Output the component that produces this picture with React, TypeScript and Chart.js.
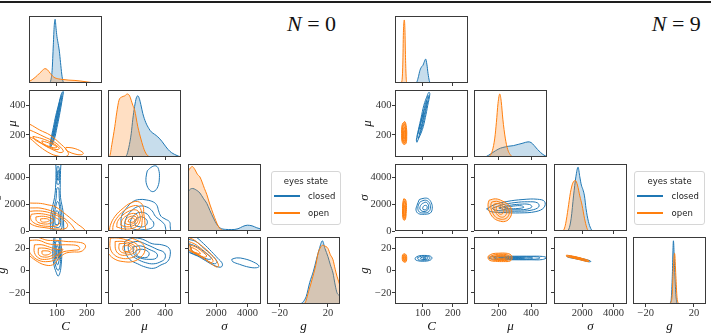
import React, { useEffect, useRef } from 'react';
import { Chart, registerables } from 'chart.js';
Chart.register(...registerables);

type P = [number, number];

// ---------------- axis ranges and ticks ----------------
const C_RANGE: P = [7, 250];
const MU_X_RANGE: P = [46, 499];
const MU_Y_RANGE: P = [50, 505];
const SIGMA_X_RANGE: P = [200, 4870];
const SIGMA_Y_RANGE: P = [0, 5000];
const G_X_RANGE: P = [-30.5, 30];
const G_Y_RANGE: P = [-30, 30];
const C_TICKS = [100, 200];
const MU_TICKS = [200, 400];
const SIGMA_X_TICKS = [2000, 4000];
const SIGMA_Y_TICKS = [0, 2000, 4000];
const G_X_TICKS = [-20, 20];
const G_Y_TICKS = [-20, 0, 20];
const VAR_TITLES = ['C', 'μ', 'σ', 'g'];
const PLOT_TITLES = ['0', '9'];
const LEGEND_TITLE = 'eyes state';
const LEGEND_LABELS = ['closed', 'open'];

// ---------------- N = 0 : diagonal densities ----------------
const n0_kde_C_closed: P[] = [[70,0],[76,0.01],[80,0.05],[84,0.2],[88,0.6],[91,0.9],[94,1.0],[97,0.86],[100,0.73],[104,0.62],[108,0.5],[112,0.32],[116,0.14],[120,0.03],[125,0]];
const n0_kde_C_open: P[] = [[0,0.02],[7,0.025],[20,0.06],[35,0.12],[50,0.19],[60,0.225],[68,0.21],[78,0.15],[90,0.09],[105,0.065],[120,0.055],[140,0.045],[160,0.04],[180,0.03],[200,0.017],[215,0.008],[235,0.002],[250,0]];
const n0_kde_mu_closed: P[] = [[140,0],[160,0.02],[175,0.15],[190,0.37],[200,0.6],[211,0.8],[222,0.94],[231,0.97],[240,0.93],[250,0.83],[262,0.69],[280,0.55],[300,0.45],[314,0.4],[335,0.36],[355,0.32],[380,0.25],[406,0.16],[430,0.09],[468,0.03],[495,0.005],[510,0]];
const n0_kde_mu_open: P[] = [[40,0],[57,0.02],[70,0.2],[88,0.48],[100,0.7],[114,0.9],[130,0.95],[150,0.97],[166,1.0],[180,0.97],[190,0.9],[200,0.82],[211,0.75],[231,0.48],[252,0.27],[270,0.12],[283,0.05],[303,0.005],[320,0]];
const n0_kde_sigma_closed: P[] = [[100,0.58],[200,0.61],[350,0.65],[500,0.66],[700,0.64],[960,0.59],[1200,0.5],[1400,0.43],[1600,0.32],[1830,0.2],[2050,0.1],[2270,0.045],[2600,0.025],[3000,0.022],[3400,0.035],[3700,0.07],[4000,0.09],[4300,0.08],[4600,0.05],[4870,0.03],[5000,0.025]];
const n0_kde_sigma_open: P[] = [[100,0.88],[200,0.92],[350,0.98],[480,1.0],[650,0.95],[800,0.88],[960,0.84],[1100,0.76],[1250,0.66],[1400,0.57],[1550,0.45],[1720,0.33],[1900,0.21],[2050,0.12],[2200,0.05],[2370,0.015],[2500,0]];
const n0_kde_g_closed: P[] = [[-4,0],[-2,0.01],[2,0.12],[4.9,0.34],[8,0.52],[10.4,0.7],[13,0.88],[15.4,1.0],[17.5,0.88],[20,0.75],[22,0.62],[24.2,0.49],[26,0.3],[27.5,0.18],[29,0.14],[30,0.13]];
const n0_kde_g_open: P[] = [[-2,0],[0.7,0.01],[4,0.2],[7.6,0.44],[10,0.62],[11.8,0.8],[14,0.9],[15.4,0.93],[17,0.92],[20,0.88],[22,0.78],[24.2,0.7],[26,0.55],[27.5,0.44],[29,0.35],[30,0.29]];

// ---------------- N = 0 : contour rings ----------------
const n0_muC_closed: P[][] = [
  [[79,116],[91,170],[100,250],[108,330],[115,410],[120,470],[121,495],[115,480],[106,410],[96,330],[88,250],[80,170],[77,130]],
  [[83,140],[89,180],[97,250],[105,330],[112,410],[117,460],[115,465],[107,410],[99,330],[91,250],[84,185],[81,150]],
  [[88,190],[95,250],[103,330],[110,410],[109,420],[101,340],[93,260],[87,200]],
];
const n0_muC_open: P[][] = [
  [[-25,240],[-10,285],[10,272],[43,233],[77,199],[110,143],[132,98],[138,66],[125,52],[100,58],[77,75],[43,120],[10,177],[-10,200]],
  [[-15,250],[10,233],[57,188],[90,154],[115,110],[121,87],[110,80],[100,87],[66,120],[33,165],[10,185],[-15,200]],
  [[20,190],[50,175],[85,145],[108,110],[100,100],[75,115],[45,145],[25,170]],
  [[50,160],[80,140],[100,118],[90,112],[70,125],[52,145]],
  [[130,115],[150,112],[175,95],[188,75],[180,65],[160,70],[140,85],[130,100]],
];
const n0_sigmaC_closed: P[][] = [
  [[82,-200],[78,600],[82,1500],[92,2500],[96,3500],[97,4500],[98,5500],[112,5500],[112,4500],[111,3500],[112,2500],[120,1500],[122,600],[118,-200]],
  [[86,100],[84,800],[89,1600],[97,2400],[100,3200],[106,3200],[108,2400],[114,1600],[117,800],[113,100]],
  [[90,300],[89,900],[94,1600],[101,2200],[106,2100],[110,1500],[112,800],[109,300]],
  [[94,500],[93,1000],[98,1500],[104,1450],[107,1000],[104,500]],
  [[100,3500],[99,4100],[101,4800],[106,4800],[109,4100],[107,3500]],
  [[102,3800],[103,4500],[106,4500],[106,3800]],
];
const n0_sigmaC_open: P[][] = [
  [[-10,2100],[20,2080],[45,2060],[70,1950],[94,1815],[132,1195],[165,576],[193,76],[200,-300],[-10,-300]],
  [[-10,1720],[20,1720],[47,1700],[88,1440],[110,1150],[132,822],[157,200],[165,-300],[-10,-300]],
  [[5,1450],[30,1500],[60,1450],[90,1250],[115,950],[135,500],[130,200],[100,150],[60,250],[25,400],[5,700],[0,1100]],
  [[15,1250],[40,1300],[70,1200],[95,1000],[110,700],[100,400],[70,350],[40,450],[18,700],[12,1000]],
  [[30,1050],[55,1100],[80,950],[90,750],[75,550],[50,550],[32,750]],
  [[45,900],[65,920],[75,800],[65,680],[48,700]],
];
const n0_sigmaMu_closed: P[][] = [
  [[135,-200],[128,500],[130,1100],[160,1700],[200,2190],[240,2350],[283,2320],[330,2150],[350,1900],[360,1500],[375,1100],[400,900],[427,700],[432,400],[425,-200]],
  [[160,-200],[150,500],[165,1100],[200,1600],[240,1850],[285,1800],[320,1500],[340,1100],[380,700],[400,400],[395,-200]],
  [[190,200],[185,700],[210,1200],[250,1400],[290,1250],[310,900],[330,600],[320,250],[270,100],[220,100]],
  [[215,400],[215,800],[245,1050],[275,950],[290,700],[280,400],[250,300]],
  [[290,4500],[320,4800],[345,4850],[360,4600],[365,4000],[355,3300],[330,2950],[305,3050],[285,3500],[282,4000]],
];
const n0_sigmaMu_open: P[][] = [
  [[55,-200],[60,400],[90,1100],[140,1700],[185,2080],[230,2200],[262,1900],[268,1300],[275,600],[270,-200]],
  [[75,0],[80,500],[110,1100],[150,1550],[195,1850],[235,1850],[255,1400],[258,800],[245,200],[180,20]],
  [[100,300],[105,700],[135,1150],[180,1500],[225,1550],[245,1150],[240,600],[210,250],[150,150]],
  [[125,450],[135,850],[170,1200],[215,1300],[232,1000],[225,600],[190,350],[150,330]],
  [[150,600],[160,900],[190,1100],[220,1050],[222,800],[200,550],[170,480]],
  [[170,700],[180,900],[205,950],[212,800],[195,650]],
];
const n0_gC_closed: P[][] = [
  [[92,33],[88,25],[86,15],[90,5],[98,-2],[104,-5],[110,-2],[114,5],[116,15],[113,25],[110,33]],
  [[94,30],[91,22],[91,12],[96,4],[104,0],[110,4],[112,12],[110,22],[107,30]],
  [[96,26],[94,18],[96,10],[102,5],[107,9],[109,17],[106,26]],
  [[98,22],[97,16],[100,10],[105,11],[106,17],[103,22]],
  [[100,19],[100,14],[103,13],[104,18]],
];
const n0_gC_open: P[][] = [
  [[-10,30],[20,31],[45,29],[70,27],[100,27],[130,26],[165,25.5],[190,24],[195,21],[180,17],[150,16.5],[125,15],[105,10],[85,5],[60,5],[35,8],[10,13],[-10,18]],
  [[10,27],[40,27],[70,24],[100,23],[140,23],[170,22],[175,19],[150,18],[115,16],[95,10],[70,8],[40,9],[15,14],[5,20]],
  [[25,23],[50,23],[75,21],[100,19],[120,19],[110,16],[90,12],[65,10],[40,11],[25,16]],
  [[38,20],[60,20],[85,18],[95,16],[80,13],[58,12],[40,14]],
  [[50,17.5],[70,17.5],[80,16],[68,14],[52,14.5]],
];
const n0_gMu_closed: P[][] = [
  [[150,26],[200,29],[260,28],[320,24],[380,23],[425,20],[432,14],[415,8],[375,5],[330,2],[280,3],[230,6],[180,10],[150,18]],
  [[175,24],[230,26],[290,23],[350,19],[395,16],[400,11],[375,8],[330,6],[280,7],[230,10],[190,14],[172,19]],
  [[200,21],[250,22],[300,19],[350,15],[345,11],[300,10],[250,11],[210,14]],
  [[220,18],[260,19],[300,16],[290,12],[250,12],[222,14]],
];
const n0_gMu_open: P[][] = [
  [[30,32],[80,33],[150,31],[210,28],[260,24],[275,18],[250,12],[200,8],[140,8],[90,10],[50,15],[30,22]],
  [[60,29],[110,29],[170,27],[220,24],[245,19],[225,14],[180,11],[130,11],[85,14],[60,20]],
  [[90,26],[140,26],[190,24],[225,20],[210,16],[170,14],[125,14],[95,18]],
  [[115,24],[160,24],[200,21],[205,18],[175,16],[135,16],[115,19]],
  [[140,22],[175,22],[190,19],[165,17],[140,18]],
];
const n0_gSigma_closed: P[][] = [
  [[100,33],[600,31],[1200,24],[1700,17],[2100,11],[2400,6],[2300,3],[1800,5],[1300,9],[800,13],[300,16],[100,18]],
  [[200,28],[700,26],[1200,20],[1700,14],[2050,8],[1900,6],[1400,9],[900,13],[400,16],[200,20]],
  [[300,24],[800,21],[1300,16],[1700,11],[1500,10],[1000,13],[500,17]],
  [[3000,10],[3300,11.3],[3800,10.5],[4400,7.5],[4750,4],[4600,2.5],[4100,3],[3500,5.5],[3050,8]],
];
const n0_gSigma_open: P[][] = [
  [[100,30],[500,28],[1000,23],[1500,17],[1900,11],[2150,5],[2050,3],[1600,7],[1100,12],[600,16],[200,19],[100,22]],
  [[200,26],[600,24],[1000,20],[1500,14],[1800,9],[1700,7],[1300,10],[800,14],[300,18],[200,22]],
  [[300,23],[700,21],[1100,17],[1400,13],[1200,12],[800,15],[400,18]],
  [[400,21],[800,18],[1000,15],[700,16],[450,18]],
];

// ---------------- N = 9 : diagonal densities ----------------
const n9_kde_C_closed: P[] = [[76,0],[80,0.02],[85,0.1],[90,0.2],[96,0.26],[100,0.28],[104,0.33],[109,0.38],[113,0.3],[117,0.15],[121,0.04],[124,0]];
const n9_kde_C_open: P[] = [[26,0],[30,0.03],[33,0.3],[35,0.8],[37,0.98],[38,1.0],[40,0.85],[42,0.4],[44,0.1],[46,0.01],[48,0]];
const n9_kde_mu_closed: P[] = [[110,0],[124,0.01],[150,0.05],[180,0.1],[210,0.14],[240,0.16],[258,0.17],[290,0.18],[320,0.2],[350,0.22],[381,0.24],[400,0.23],[420,0.18],[440,0.12],[460,0.07],[480,0.03],[496,0.01],[510,0]];
const n9_kde_mu_open: P[] = [[130,0],[145,0.02],[160,0.1],[175,0.3],[185,0.55],[195,0.85],[206,1.0],[215,0.88],[225,0.6],[240,0.3],[255,0.12],[270,0.04],[280,0.01],[295,0]];
const n9_kde_sigma_closed: P[] = [[1000,0],[1150,0.03],[1300,0.2],[1450,0.55],[1600,0.85],[1740,1.0],[1850,0.85],[1950,0.72],[2050,0.65],[2150,0.55],[2250,0.35],[2400,0.15],[2550,0.04],[2650,0]];
const n9_kde_sigma_open: P[] = [[750,0],[850,0.03],[950,0.12],[1100,0.35],[1250,0.6],[1400,0.75],[1570,0.79],[1700,0.72],[1850,0.55],[2000,0.4],[2150,0.2],[2300,0.05],[2400,0]];
const n9_kde_g_closed: P[] = [[-1,0],[1,0.05],[2,0.4],[3,1.0],[4,0.55],[5,0.15],[6,0]];
const n9_kde_g_open: P[] = [[0.5,0],[2,0.15],[3,0.6],[4,0.8],[5,0.45],[6,0.1],[7.5,0]];

// ---------------- N = 9 : contour rings ----------------
const n9_muC_closed: P[][] = [
  [[80,150],[98,236],[108,318],[116,401],[123,478],[120,490],[115,470],[103,401],[94,318],[85,236],[78,165]],
  [[84,175],[97,250],[105,318],[112,390],[119,460],[117,468],[109,400],[97,318],[88,250],[82,190]],
  [[88,205],[96,260],[102,318],[109,380],[114,430],[111,432],[104,380],[97,318],[90,260],[86,215]],
  [[92,240],[98,290],[103,340],[101,345],[95,300],[90,255]],
];
const n9_muC_open: P[][] = [
  [[33,280],[40,290],[45,250],[46,190],[44,145],[38,135],[31,150],[29,210],[30,260]],
  [[34,265],[40,272],[43,240],[44,190],[42,155],[37,148],[33,160],[31,210],[32,250]],
  [[35,245],[40,250],[42,220],[42,185],[40,162],[36,160],[33,180],[33,220]],
  [[36,225],[39,228],[40,200],[39,175],[36,175],[35,200]],
];
const n9_sigmaC_closed: P[][] = [
  [[88,2350],[105,2450],[118,2400],[128,2100],[131,1700],[125,1350],[105,1250],[85,1300],[77,1550],[80,1900]],
  [[92,2200],[108,2300],[120,2150],[125,1800],[120,1450],[103,1350],[88,1420],[83,1700],[86,2000]],
  [[98,2050],[110,2150],[118,1950],[118,1650],[110,1480],[97,1480],[90,1650],[92,1900]],
  [[104,1900],[112,1900],[114,1700],[108,1580],[100,1620],[100,1780]],
];
const n9_sigmaC_open: P[][] = [
  [[36,2400],[42,2350],[45,1900],[44,1300],[42,900],[37,800],[33,1000],[32,1500],[33,2100]],
  [[37,2200],[41,2150],[43,1800],[42,1300],[40,1000],[37,950],[35,1200],[34,1700]],
  [[37,1900],[40,1850],[41,1500],[40,1200],[37,1150],[36,1500]],
];
const n9_sigmaMu_closed: P[][] = [
  [[124,1650],[170,1950],[250,2200],[350,2350],[440,2370],[484,2200],[480,1750],[430,1450],[330,1350],[230,1380],[150,1450]],
  [[160,1700],[220,1950],[300,2120],[380,2180],[440,2100],[448,1800],[400,1550],[320,1480],[230,1500],[170,1580]],
  [[200,1720],[260,1900],[330,2000],[390,1980],[405,1800],[370,1620],[300,1580],[230,1600]],
  [[230,1740],[290,1860],[340,1880],[355,1770],[320,1680],[260,1670]],
];
const n9_sigmaMu_open: P[][] = [
  [[140,2300],[180,2400],[220,2250],[265,1900],[280,1500],[270,1000],[240,720],[200,760],[165,1000],[140,1500],[133,2000]],
  [[155,2150],[185,2220],[215,2100],[250,1800],[265,1450],[255,1050],[230,880],[200,920],[175,1100],[155,1550],[150,1900]],
  [[170,2000],[195,2050],[220,1900],[245,1600],[248,1300],[230,1050],[205,1080],[185,1300],[170,1650]],
  [[185,1800],[205,1850],[225,1650],[230,1400],[215,1250],[197,1330],[185,1550]],
];
const n9_gC_closed: P[][] = [
  [[75,11.5],[85,13],[105,13.5],[125,12.8],[130,11],[122,9],[100,8.3],[82,8.8],[74,10]],
  [[82,11.5],[95,12.8],[112,12.8],[123,11.8],[120,9.8],[100,9.2],[85,9.7]],
  [[92,11.3],[105,12.3],[116,11.8],[114,10.2],[100,9.9],[92,10.5]],
  [[100,11.2],[108,11.6],[110,10.8],[103,10.4]],
];
const n9_gC_open: P[][] = [
  [[32,14],[38,15],[44,14],[46,11],[44,8],[38,7.5],[33,8.5],[31,11]],
  [[34,13],[38,13.5],[42,12.5],[43,10.5],[41,9],[37,9],[34,10.5]],
  [[36,12],[40,12],[41,10.5],[38,10],[36,10.5]],
];
const n9_gMu_closed: P[][] = [
  [[140,12],[200,12.8],[300,12.8],[400,12.8],[470,12.6],[495,11.5],[470,9.8],[400,9.6],[300,9.6],[200,9.8],[140,10.8]],
  [[170,11.8],[250,12.3],[350,12.3],[440,12.2],[455,11.2],[430,10.2],[350,10],[250,10.1],[175,10.7]],
  [[200,11.5],[300,11.9],[400,11.8],[410,11],[380,10.4],[300,10.4],[210,10.7]],
  [[240,11.3],[330,11.6],[360,11.1],[320,10.7],[250,10.8]],
];
const n9_gMu_open: P[][] = [
  [[135,13],[160,15],[200,15.5],[245,15.5],[275,14],[282,11],[270,8.5],[230,8],[180,8.2],[145,9],[133,11]],
  [[150,12.8],[180,14.3],[220,14.5],[255,13.8],[268,11.5],[255,9.3],[215,9],[170,9.2],[152,10.5]],
  [[165,12.5],[200,13.5],[240,13.3],[255,11.5],[240,10],[200,9.8],[170,10.5]],
  [[185,12.2],[215,12.8],[238,12.3],[235,10.8],[210,10.5],[188,11]],
];
const n9_gSigma_closed: P[][] = [
  [[1100,13.2],[1600,12],[2100,10.3],[2500,8.8],[2550,8.0],[2400,7.8],[1900,9.6],[1400,11],[1050,12.2]],
  [[1300,12.3],[1800,11],[2250,9.5],[2200,9],[1800,10.2],[1350,11.6]],
];
const n9_gSigma_open: P[][] = [
  [[1000,13.8],[1500,12.6],[2000,10.8],[2420,9.0],[2450,8.2],[2300,8.1],[1800,9.8],[1300,11.5],[1000,12.6]],
  [[1150,13.2],[1600,12],[2100,10.2],[2300,9.0],[2150,9.0],[1650,10.8],[1200,12.2]],
  [[1300,12.7],[1700,11.6],[2000,10.4],[1900,10.1],[1550,11.2],[1300,12.1]],
];

// ---------------- layout (pixels) ----------------
const COL_LEFT = [[29, 108, 188, 267], [395, 474, 554, 633]];
const ROW_TOP = [16, 90, 164, 237];
const PW = 73, PH = 67;
const L = 50, T = 10, R = 10, B = 36;
const CW = L + PW + R, CH = T + PH + B;
const Y_TITLE_X = [[0, 12.7, -2.5, 1.5], [0, 367.7, 365, 364.3]];
const X_TITLE_Y = 327;
const TITLE_LH = 13 * 1.2;

const BLUE = '#1f77b4';
const ORANGE = '#ff7f0e';
const blueA = (a: number) => `rgba(31,119,180,${a})`;
const orangeA = (a: number) => `rgba(255,127,14,${a})`;

type Panel = {
  plot: number; row: number; col: number;
  kdeClosed?: P[]; kdeOpen?: P[]; kdeTop?: number;
  ringsClosed?: P[][]; ringsOpen?: P[][];
  fillClosed?: number; fillOpen?: number;
};

const PANELS: Panel[] = [
  { plot: 0, row: 0, col: 0, kdeClosed: n0_kde_C_closed, kdeOpen: n0_kde_C_open, kdeTop: 1.052 },
  { plot: 0, row: 1, col: 0, ringsClosed: n0_muC_closed, ringsOpen: n0_muC_open, fillClosed: 0.55 },
  { plot: 0, row: 1, col: 1, kdeClosed: n0_kde_mu_closed, kdeOpen: n0_kde_mu_open, kdeTop: 1.063 },
  { plot: 0, row: 2, col: 0, ringsClosed: n0_sigmaC_closed, ringsOpen: n0_sigmaC_open },
  { plot: 0, row: 2, col: 1, ringsClosed: n0_sigmaMu_closed, ringsOpen: n0_sigmaMu_open },
  { plot: 0, row: 2, col: 2, kdeClosed: n0_kde_sigma_closed, kdeOpen: n0_kde_sigma_open, kdeTop: 1.04 },
  { plot: 0, row: 3, col: 0, ringsClosed: n0_gC_closed, ringsOpen: n0_gC_open },
  { plot: 0, row: 3, col: 1, ringsClosed: n0_gMu_closed, ringsOpen: n0_gMu_open },
  { plot: 0, row: 3, col: 2, ringsClosed: n0_gSigma_closed, ringsOpen: n0_gSigma_open },
  { plot: 0, row: 3, col: 3, kdeClosed: n0_kde_g_closed, kdeOpen: n0_kde_g_open, kdeTop: 1.06 },
  { plot: 1, row: 0, col: 0, kdeClosed: n9_kde_C_closed, kdeOpen: n9_kde_C_open, kdeTop: 1.063 },
  { plot: 1, row: 1, col: 0, ringsClosed: n9_muC_closed, ringsOpen: n9_muC_open, fillOpen: 0.7 },
  { plot: 1, row: 1, col: 1, kdeClosed: n9_kde_mu_closed, kdeOpen: n9_kde_mu_open, kdeTop: 1.063 },
  { plot: 1, row: 2, col: 0, ringsClosed: n9_sigmaC_closed, ringsOpen: n9_sigmaC_open, fillOpen: 0.7 },
  { plot: 1, row: 2, col: 1, ringsClosed: n9_sigmaMu_closed, ringsOpen: n9_sigmaMu_open, fillOpen: 0.22 },
  { plot: 1, row: 2, col: 2, kdeClosed: n9_kde_sigma_closed, kdeOpen: n9_kde_sigma_open, kdeTop: 1.05 },
  { plot: 1, row: 3, col: 0, ringsClosed: n9_gC_closed, ringsOpen: n9_gC_open, fillOpen: 0.7 },
  { plot: 1, row: 3, col: 1, ringsClosed: n9_gMu_closed, ringsOpen: n9_gMu_open, fillOpen: 0.35 },
  { plot: 1, row: 3, col: 2, ringsClosed: n9_gSigma_closed, ringsOpen: n9_gSigma_open, fillOpen: 0.5 },
  { plot: 1, row: 3, col: 3, kdeClosed: n9_kde_g_closed, kdeOpen: n9_kde_g_open, kdeTop: 1.06 },
];

const X_AXES: { range: P; ticks: number[] }[] = [
  { range: C_RANGE, ticks: C_TICKS },
  { range: MU_X_RANGE, ticks: MU_TICKS },
  { range: SIGMA_X_RANGE, ticks: SIGMA_X_TICKS },
  { range: G_X_RANGE, ticks: G_X_TICKS },
];
const Y_AXES: { range: P; ticks: number[] }[] = [
  { range: C_RANGE, ticks: C_TICKS },
  { range: MU_Y_RANGE, ticks: MU_TICKS },
  { range: SIGMA_Y_RANGE, ticks: SIGMA_Y_TICKS },
  { range: G_Y_RANGE, ticks: G_Y_TICKS },
];

const fmt = (v: number) => (v < 0 ? '\u2212' + Math.abs(v) : String(v));
const SERIF = '"Liberation Serif", "DejaVu Serif", serif';
const SPINE = '#3a3a3a';

function axis(range: P, ticks: number[], showLabels: boolean, isX: boolean, title: string, titlePad: number) {
  return {
    type: 'linear',
    min: range[0],
    max: range[1],
    afterBuildTicks: (s: any) => { s.ticks = ticks.map((v) => ({ value: v })); },
    afterFit: (s: any) => { if (isX) s.height = B; else s.width = L; },
    ticks: {
      color: showLabels ? '#333' : 'rgba(0,0,0,0)',
      font: { family: SERIF, size: 10.5, lineHeight: 1 },
      padding: 0.5,
      autoSkip: false,
      maxRotation: 0,
      callback: (v: any) => fmt(Number(v)),
    },
    grid: { display: true, drawOnChartArea: false, drawTicks: true, tickLength: 3, color: SPINE, lineWidth: 1 },
    border: { display: false },
    title: {
      display: !!title,
      text: title,
      color: '#111',
      font: { family: SERIF, size: 13, style: 'italic' },
      padding: isX ? { top: 0, bottom: titlePad } : { top: titlePad, bottom: 0 },
    },
  };
}

const framePlugin = {
  id: 'frame',
  afterDatasetsDraw(chart: any) {
    const { ctx, chartArea: a } = chart;
    ctx.save();
    ctx.strokeStyle = SPINE;
    ctx.lineWidth = 1;
    ctx.strokeRect(a.left + 0.5, a.top + 0.5, a.right - a.left - 1, a.bottom - a.top - 1);
    ctx.restore();
  },
};

function kdeSet(pts: P[], color: string, fill: string) {
  return {
    data: pts.map(([x, y]) => ({ x, y })),
    borderColor: color, backgroundColor: fill, borderWidth: 1,
    pointRadius: 0, fill: 'origin', cubicInterpolationMode: 'monotone', clip: 0,
  };
}
function ringSet(pts: P[], color: string, fill: string | null) {
  return {
    data: [...pts, pts[0]].map(([x, y]) => ({ x, y })),
    borderColor: color, backgroundColor: fill || 'rgba(0,0,0,0)', borderWidth: 1,
    pointRadius: 0, tension: 0.4, fill: fill ? 'shape' : false, clip: 0,
  };
}

function buildChart(canvas: HTMLCanvasElement, p: Panel) {
  const diag = p.row === p.col;
  const canvasLeft = COL_LEFT[p.plot][p.col] - L;
  const canvasTop = ROW_TOP[p.row] - T;
  const datasets: any[] = [];
  if (diag) {
    datasets.push(kdeSet(p.kdeOpen!, ORANGE, orangeA(0.25)));
    datasets.push(kdeSet(p.kdeClosed!, BLUE, blueA(0.25)));
  } else {
    p.ringsOpen!.forEach((r, i) => datasets.push(ringSet(r, ORANGE, i === 0 && p.fillOpen ? orangeA(p.fillOpen) : null)));
    p.ringsClosed!.forEach((r, i) => datasets.push(ringSet(r, BLUE, i === 0 && p.fillClosed ? blueA(p.fillClosed) : null)));
  }
  const xa = X_AXES[p.col];
  const showX = p.row === 3;
  const xTitlePad = canvasTop + CH - X_TITLE_Y - TITLE_LH / 2;
  const xScale = axis(xa.range, xa.ticks, showX, true, showX ? VAR_TITLES[p.col] : '', xTitlePad);
  let yScale: any;
  if (diag) {
    yScale = axis([0, p.kdeTop!], [], false, false, '', 0);
  } else {
    const ya = Y_AXES[p.row];
    const showY = p.col === 0;
    const yTitlePad = Y_TITLE_X[p.plot][p.row] - canvasLeft - TITLE_LH / 2;
    yScale = axis(ya.range, ya.ticks, showY, false, showY ? VAR_TITLES[p.row] : '', yTitlePad);
  }
  return new Chart(canvas, {
    type: 'line',
    data: { datasets },
    options: {
      responsive: false,
      animation: false,
      events: [],
      layout: { padding: { left: 0, top: T, right: R, bottom: 0 } },
      plugins: { legend: { display: false }, tooltip: { enabled: false } },
      elements: { line: { capBezierPoints: false } },
      scales: { x: xScale, y: yScale },
    } as any,
    plugins: [framePlugin],
  });
}

function Legend({ left }: { left: number }) {
  const font = '"DejaVu Sans", sans-serif';
  return (
    <div style={{ position: 'absolute', left, top: 171, width: 70.5, height: 54, boxSizing: 'border-box', border: '1px solid #d6d6d6', borderRadius: 3, background: 'rgba(255,255,255,0.85)', fontFamily: font, fontSize: 8.5, color: '#222' }}>
      <div style={{ position: 'absolute', left: 0, right: 0, top: 3, textAlign: 'center', lineHeight: '12px', whiteSpace: 'nowrap' }}>{LEGEND_TITLE}</div>
      <div style={{ position: 'absolute', left: 2, top: 23, width: 26, height: 2, background: BLUE }} />
      <div style={{ position: 'absolute', left: 36.3, top: 18, lineHeight: '12px' }}>{LEGEND_LABELS[0]}</div>
      <div style={{ position: 'absolute', left: 2, top: 40, width: 26, height: 2, background: ORANGE }} />
      <div style={{ position: 'absolute', left: 36.3, top: 35, lineHeight: '12px' }}>{LEGEND_LABELS[1]}</div>
    </div>
  );
}

export default function App() {
  const refs = useRef<(HTMLCanvasElement | null)[]>([]);
  useEffect(() => {
    const charts = PANELS.map((p, i) => buildChart(refs.current[i]!, p));
    return () => charts.forEach((c) => c.destroy());
  }, []);
  return (
    <div style={{ position: 'fixed', left: 0, top: 0, width: 711, height: 336, overflow: 'hidden', background: '#fff' }}>
      <div style={{ position: 'absolute', left: 0, top: 1, width: 711, height: 2, background: '#1e1e1e' }} />
      {PANELS.map((p, i) => (
        <canvas
          key={i}
          ref={(el) => { refs.current[i] = el; }}
          width={CW}
          height={CH}
          style={{ position: 'absolute', left: COL_LEFT[p.plot][p.col] - L, top: ROW_TOP[p.row] - T, width: CW, height: CH }}
        />
      ))}
      {[287, 651.7].map((x, k) => (
        <div key={k} style={{ position: 'absolute', left: x, top: 12, fontFamily: SERIF, fontSize: 22, lineHeight: '24px', color: '#111', whiteSpace: 'nowrap' }}>
          <i>N</i> = {PLOT_TITLES[k]}
        </div>
      ))}
      <Legend left={270.7} />
      <Legend left={634.3} />
    </div>
  );
}
